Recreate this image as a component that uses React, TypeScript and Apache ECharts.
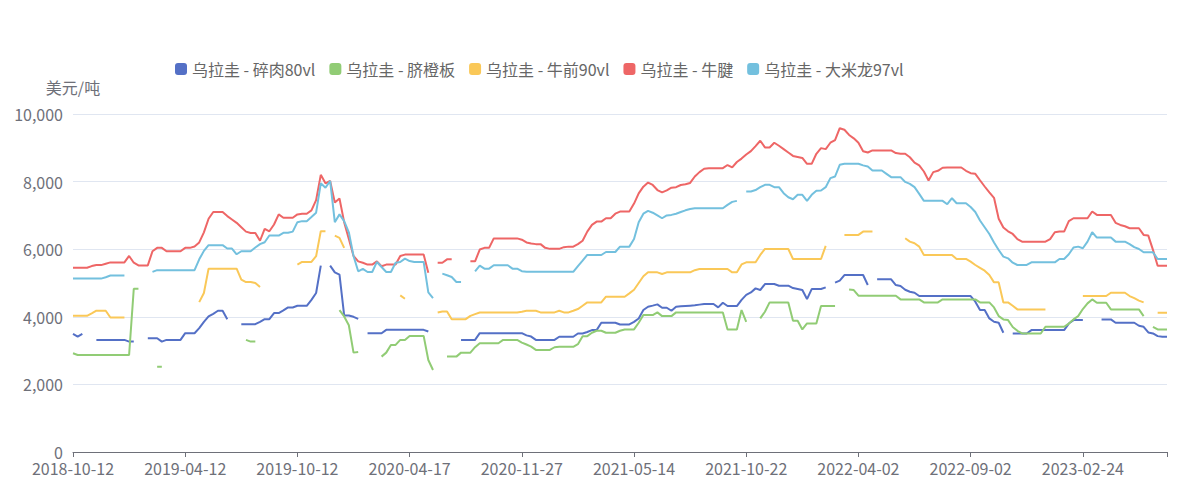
import React, { useEffect, useRef } from "react";
import * as echarts from "echarts";

const labelDates = ["2018-10-12", "2019-04-12", "2019-10-12", "2020-04-17", "2020-11-27", "2021-05-14", "2021-10-22", "2022-04-02", "2022-09-02", "2023-02-24"];
const perLabel = 24;
const totalPoints = 235;
const seriesNames = ["乌拉圭 - 碎肉80vl", "乌拉圭 - 脐橙板", "乌拉圭 - 牛前90vl", "乌拉圭 - 牛腱", "乌拉圭 - 大米龙97vl"];
const colors = ["#5470c6", "#91cc75", "#fac858", "#ee6666", "#73c0de"];
const yTicks = { min: 0, max: 10000, interval: 2000 };

const N = null;

const suirou: (number | null)[] = [
  3495, 3415, 3495, N, N, 3316, 3316, 3316, 3316, 3316,
  3316, 3316, 3267, 3267, N, N, 3366, 3366, 3366, 3267,
  3316, 3316, 3316, 3316, 3515, 3515, 3515, 3663, 3850, 4010,
  4089, 4178, 4178, 3930, N, N, 3782, 3782, 3782, 3782,
  3850, 3930, 3930, 4109, 4109, 4188, 4277, 4277, 4326, 4326,
  4326, 4500, 4703, 5514, N, 5514, 5316, 5247, 4039, 4039,
  4000, 3940, N, 3515, 3515, 3515, 3515, 3614, 3614, 3614,
  3614, 3614, 3614, 3614, 3614, 3614, 3564, N, N, N,
  N, N, N, 3316, 3316, 3316, 3316, 3515, 3515, 3515,
  3515, 3515, 3515, 3515, 3515, 3515, 3515, 3450, 3415, 3316,
  3316, 3316, 3316, 3316, 3409, 3409, 3409, 3409, 3507, 3507,
  3550, 3606, 3606, 3824, 3824, 3824, 3824, 3774, 3774, 3774,
  3850, 3950, 4200, 4298, 4330, 4367, 4268, 4268, 4179, 4298,
  4310, 4320, 4330, 4340, 4360, 4377, 4377, 4377, 4278, 4416,
  4318, 4318, 4318, 4500, 4650, 4720, 4841, 4792, 4970, 4970,
  4970, 4920, 4920, 4920, 4850, 4821, 4792, 4525, 4821, 4821,
  4821, 4871, N, 5009, 5069, 5236, 5236, 5236, 5236, 5236,
  4940, N, 5108, 5108, 5108, 5108, 4940, 4910, 4800, 4742,
  4713, 4614, 4614, 4614, 4614, 4614, 4614, 4614, 4614, 4614,
  4614, 4614, 4614, 4446, 4199, 4199, 3952, 3853, 3824, 3527,
  N, 3507, 3507, 3507, 3507, 3606, 3606, 3606, 3606, 3606,
  3606, 3606, 3606, 3800, 3903, 3903, 3903, N, N, N,
  3923, 3923, 3923, 3824, 3824, 3824, 3824, 3824, 3735, 3705,
  3537, 3507, 3428, 3409, 3409,
];

const qicheng: (number | null)[] = [
  2920, 2870, 2870, 2870, 2870, 2870, 2870, 2870, 2870, 2870,
  2870, 2870, 2870, 4830, 4830, N, N, N, 2525, 2525,
  N, N, N, N, N, N, N, N, N, N,
  N, N, N, N, N, N, N, 3316, 3267, 3267,
  N, N, N, N, N, N, N, N, N, N,
  N, N, N, N, N, N, N, 4200, 4010, 3750,
  2940, 2960, N, N, N, N, 2822, 2940, 3168, 3168,
  3316, 3316, 3435, 3435, 3435, 3435, 2723, 2426, N, N,
  2822, 2822, 2822, 2940, 2940, 2940, 3100, 3218, 3218, 3218,
  3218, 3218, 3316, 3316, 3316, 3316, 3237, 3180, 3119, 3020,
  3020, 3020, 3020, 3099, 3112, 3112, 3112, 3112, 3191, 3428,
  3428, 3527, 3586, 3586, 3527, 3527, 3527, 3586, 3626, 3626,
  3626, 3824, 4051, 4051, 4051, 4130, 4021, 4021, 4021, 4130,
  4130, 4130, 4130, 4130, 4130, 4130, 4130, 4130, 4130, 4130,
  3626, 3626, 3626, 4199, 3853, N, N, 3952, 4150, 4426,
  4426, 4426, 4426, 4426, 3883, 3883, 3626, 3804, 3804, 3804,
  4318, 4318, 4318, 4318, N, N, 4811, 4792, 4624, 4624,
  4624, 4624, 4624, 4624, 4624, 4624, 4624, 4515, 4515, 4515,
  4515, 4515, 4426, 4426, 4426, 4426, 4515, 4515, 4515, 4515,
  4515, 4515, 4515, 4515, 4426, 4426, 4426, 4278, 4021, 3923,
  3903, 3700, 3586, 3507, 3507, 3507, 3507, 3507, 3705, 3705,
  3705, 3705, 3705, 3800, 3923, 4021, 4229, 4397, 4515, 4416,
  4416, 4416, 4219, 4219, 4219, 4219, 4219, 4219, 4219, 4021,
  N, 3705, 3626, 3626, 3626,
];

const niuqian: (number | null)[] = [
  4030, 4030, 4030, 4030, 4100, 4180, 4180, 4180, 3980, 3980,
  3980, 3980, N, N, N, N, N, N, N, N,
  N, N, N, N, N, N, N, 4435, 4703, 5425,
  5425, 5425, 5425, 5425, 5425, 5425, 5100, 5029, 5029, 5000,
  4881, N, N, N, N, N, N, N, 5544, 5623,
  5623, 5623, 5792, 6534, 6534, N, 6400, 6336, 6040, N,
  N, N, N, N, N, N, N, N, N, N,
  4633, 4534, N, N, N, N, N, N, 4128, 4158,
  4158, 3930, 3930, 3930, 3930, 4029, 4080, 4128, 4128, 4128,
  4128, 4128, 4128, 4128, 4128, 4128, 4150, 4178, 4178, 4178,
  4130, 4130, 4130, 4130, 4179, 4130, 4130, 4179, 4229, 4327,
  4426, 4426, 4426, 4426, 4594, 4594, 4594, 4594, 4594, 4693,
  4800, 5000, 5200, 5315, 5315, 5315, 5266, 5315, 5315, 5315,
  5315, 5315, 5315, 5380, 5414, 5414, 5414, 5414, 5414, 5414,
  5414, 5315, 5315, 5550, 5612, 5612, 5612, 5829, 6007, 6007,
  6007, 6007, 6007, 6007, 5711, 5711, 5711, 5711, 5711, 5711,
  5711, 6096, N, N, N, 6422, 6422, 6422, 6422, 6521,
  6521, 6521, N, N, N, N, N, N, 6323, 6224,
  6175, 6076, 5829, 5829, 5829, 5829, 5829, 5829, 5829, 5711,
  5711, 5711, 5632, 5533, 5450, 5365, 5236, 5019, 5019, 4426,
  4426, 4327, 4219, 4219, 4219, 4219, 4219, 4219, 4219, N,
  N, N, N, N, N, N, 4614, 4614, 4614, 4614,
  4614, 4614, 4713, 4713, 4713, 4713, 4614, 4550, 4480, 4426,
  N, N, 4120, 4120, 4120,
];

const niujian: (number | null)[] = [
  5450, 5450, 5450, 5450, 5500, 5530, 5530, 5570, 5610, 5610,
  5610, 5610, 5800, 5600, 5520, 5520, 5520, 5940, 6040, 6040,
  5940, 5940, 5940, 5940, 6040, 6040, 6080, 6200, 6500, 6900,
  7100, 7100, 7100, 6980, 6880, 6780, 6650, 6520, 6480, 6480,
  6250, 6600, 6530, 6730, 7030, 6930, 6930, 6930, 7030, 7050,
  7050, 7150, 7450, 8200, 7950, 8020, 7380, 7500, 6800, 6300,
  5800, 5640, 5600, 5545, 5545, 5640, 5495, 5545, 5545, 5545,
  5800, 5840, 5840, 5840, 5840, 5840, 5300, N, 5600, 5600,
  5700, 5700, N, N, N, 5640, 5640, 5990, 6040, 6040,
  6320, 6320, 6320, 6320, 6320, 6320, 6280, 6200, 6170, 6150,
  6150, 6040, 6010, 6010, 6010, 6060, 6076, 6076, 6150, 6250,
  6520, 6720, 6817, 6817, 6916, 6916, 7050, 7114, 7114, 7114,
  7350, 7650, 7850, 7973, 7900, 7750, 7680, 7740, 7820, 7835,
  7900, 7920, 7960, 8150, 8280, 8380, 8398, 8398, 8398, 8398,
  8490, 8420, 8580, 8680, 8800, 8900, 9050, 9208, 9011, 9011,
  9150, 9060, 8960, 8860, 8760, 8730, 8700, 8526, 8526, 8823,
  8991, 8961, 9150, 9230, 9580, 9534, 9380, 9280, 9150, 8900,
  8860, 8922, 8922, 8922, 8922, 8922, 8843, 8823, 8823, 8720,
  8560, 8480, 8299, 8032, 8280, 8319, 8410, 8418, 8418, 8418,
  8418, 8320, 8250, 8230, 8040, 7855, 7680, 7520, 6900, 6640,
  6530, 6450, 6300, 6224, 6224, 6224, 6224, 6224, 6224, 6300,
  6500, 6521, 6521, 6830, 6916, 6916, 6916, 6916, 7114, 7015,
  7015, 7015, 7015, 6780, 6718, 6680, 6620, 6620, 6620, 6422,
  6402, 5980, 5513, 5513, 5513,
];

const damilong: (number | null)[] = [
  5130, 5130, 5130, 5130, 5130, 5130, 5130, 5170, 5220, 5220,
  5220, 5220, N, N, N, N, N, 5330, 5380, 5380,
  5380, 5380, 5380, 5380, 5380, 5380, 5380, 5700, 5950, 6120,
  6120, 6120, 6120, 6020, 6020, 5850, 5940, 5940, 5940, 6050,
  6150, 6207, 6405, 6405, 6405, 6485, 6485, 6520, 6800, 6830,
  6830, 6950, 7080, 7950, 7821, 8019, 6800, 7030, 6830, 6500,
  5800, 5346, 5420, 5326, 5326, 5623, 5475, 5326, 5326, 5600,
  5623, 5722, 5650, 5623, 5623, 5623, 4722, 4554, N, 5277,
  5230, 5178, 5029, 5029, N, N, 5346, 5514, 5425, 5425,
  5524, 5524, 5524, 5524, 5425, 5425, 5350, 5330, 5330, 5330,
  5330, 5330, 5330, 5330, 5330, 5330, 5330, 5330, 5500, 5661,
  5829, 5829, 5829, 5829, 5918, 5918, 5918, 6076, 6076, 6076,
  6300, 6800, 7050, 7133, 7080, 7000, 6916, 7000, 7015, 7050,
  7100, 7150, 7190, 7212, 7212, 7212, 7212, 7212, 7212, 7212,
  7311, 7400, 7430, N, 7706, 7706, 7750, 7835, 7904, 7904,
  7835, 7835, 7657, 7538, 7479, 7608, 7608, 7430, 7608, 7726,
  7736, 7835, 8102, 8151, 8497, 8526, 8526, 8526, 8526, 8480,
  8447, 8329, 8329, 8329, 8230, 8131, 8131, 8131, 7990, 7934,
  7835, 7637, 7430, 7430, 7430, 7430, 7430, 7331, 7509, 7361,
  7361, 7361, 7250, 7100, 6850, 6650, 6450, 6200, 5977, 5780,
  5730, 5600, 5533, 5533, 5533, 5612, 5612, 5612, 5612, 5612,
  5612, 5711, 5711, 5850, 6050, 6076, 6027, 6224, 6501, 6343,
  6343, 6343, 6343, 6224, 6224, 6224, 6150, 6060, 6007, 5908,
  5908, 5908, 5711, 5711, 5711,
];

const seriesData = [suirou, qicheng, niuqian, niujian, damilong];

function pad(n: number) {
  return n < 10 ? "0" + n : "" + n;
}
function fmt(t: number) {
  const d = new Date(t);
  return d.getUTCFullYear() + "-" + pad(d.getUTCMonth() + 1) + "-" + pad(d.getUTCDate());
}
function buildCategories(): string[] {
  const out: string[] = [];
  const day = 86400000;
  for (let s = 0; s < labelDates.length; s++) {
    const start = Date.parse(labelDates[s] + "T00:00:00Z");
    const end = s + 1 < labelDates.length ? Date.parse(labelDates[s + 1] + "T00:00:00Z") : start + perLabel * 7 * day;
    const span = (end - start) / day;
    for (let j = 0; j < perLabel; j++) {
      if (out.length >= totalPoints) break;
      out.push(fmt(start + Math.round((j * span) / perLabel) * day));
    }
  }
  return out;
}

const FONT = "'Noto Sans CJK SC', 'Noto Sans', sans-serif";

export default function App() {
  const ref = useRef<HTMLDivElement>(null);
  useEffect(() => {
    if (!ref.current) return;
    const chart = echarts.init(ref.current, null, { renderer: "svg" });
    const categories = buildCategories();
    chart.setOption({
      animation: false,
      backgroundColor: "#ffffff",
      color: colors,
      textStyle: { fontFamily: FONT },
      legend: {
        top: 56,
        left: 170,
        icon: "roundRect",
        itemWidth: 12,
        itemHeight: 12,
        itemGap: 14,
        textStyle: { fontSize: 16, color: "#666", fontFamily: FONT },
        data: seriesNames,
      },
      grid: { left: 73, right: 12, top: 114, bottom: 27, containLabel: false, outerBoundsMode: "none" },
      xAxis: {
        type: "category",
        boundaryGap: false,
        data: categories,
        axisLine: { lineStyle: { color: "#6E7079", width: 1 } },
        axisTick: {
          length: 5,
          lineStyle: { color: "#6E7079" },
          interval: (i: number) => i % perLabel === 0 || i === totalPoints - 1,
        },
        axisLabel: { interval: perLabel - 1, fontSize: 16, color: "#6E7079", margin: 8, fontFamily: FONT },
      },
      yAxis: {
        type: "value",
        min: yTicks.min,
        max: yTicks.max,
        interval: yTicks.interval,
        name: "美元/吨",
        nameGap: 19,
        nameTextStyle: { fontSize: 16, color: "#6E7079", fontFamily: FONT },
        axisLine: { show: false },
        axisTick: { show: false },
        splitLine: { lineStyle: { color: "#E0E6F1" } },
        axisLabel: { fontSize: 16, color: "#6E7079", margin: 10, fontFamily: FONT },
      },
      series: seriesNames.map((name, k) => ({
        name,
        type: "line",
        data: seriesData[k],
        showSymbol: false,
        symbol: "none",
        connectNulls: false,
        lineStyle: { width: 2, color: colors[k] },
        itemStyle: { color: colors[k] },
      })),
    });
    return () => chart.dispose();
  }, []);
  return (
    <div
      ref={ref}
      style={{ position: "absolute", left: 0, top: 0, width: 1179, height: 479, background: "#fff" }}
    />
  );
}
